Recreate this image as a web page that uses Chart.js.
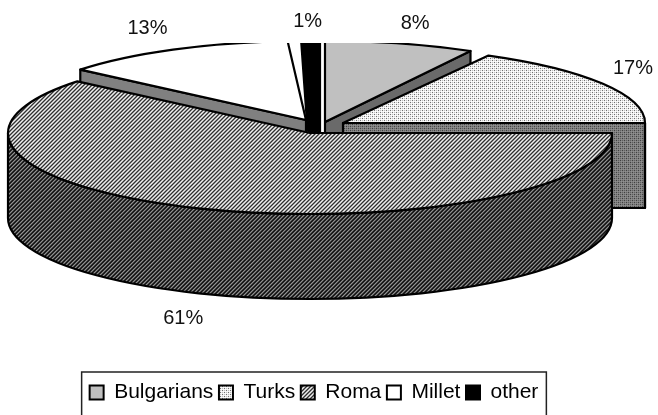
<!DOCTYPE html>
<html>
<head>
<meta charset="utf-8">
<style>html,body{margin:0;padding:0;background:#fff;overflow:hidden}canvas{display:block}</style>
<script src="https://cdn.jsdelivr.net/npm/chart.js@4/dist/chart.umd.js"></script>
</head>
<body>
<canvas id="c" width="658" height="415"></canvas>
<script>
// ---- data ----
const categories = ['Bulgarians', 'Turks', 'Roma', 'Millet', 'other'];
const shares = [8, 17, 61, 13, 1];

// ---- styling ----
const FONT = '"Liberation Sans", Arial, sans-serif';
const PIE = { cx: 310, cy: 133, rx: 302, ry: 81, depth: 85, clipTop: 43 };
const EXPLODE = [[15, -11], [33, -10], [0, 0], [-4, -13], [10, -13]];
const RX_SCALE = [1, 1, 1, 0.97, 1];
const RY_SCALE = [1, 0.95, 1, 0.975, 1];
const BOTTOM_SCALE = [1, 1, 1, 1, 0.68];
const LABEL_NUDGE = [[0, 0], [-22, -3], [-4, 5], [6, -1], [-1, 3]];
const PAINT_ORDER = [0, 4, 3, 1, 2];

function pattern(rows) {
  const h = rows.length, w = rows[0].length;
  const t = document.createElement('canvas');
  t.width = w; t.height = h;
  const g = t.getContext('2d');
  rows.forEach((r, y) => r.forEach((v, x) => {
    g.fillStyle = 'rgb(' + v + ',' + v + ',' + v + ')';
    g.fillRect(x, y, 1, 1);
  }));
  return g.createPattern(t, 'repeat');
}
function diagonal(seq) {
  const n = seq.length, rows = [];
  for (let y = 0; y < n; y++) {
    const r = [];
    for (let x = 0; x < n; x++) r.push(seq[(x + y) % n]);
    rows.push(r);
  }
  return pattern(rows);
}
const turksTop = pattern([
  [0x70, 0xf0, 0xc0, 0xf0],
  [0xf0, 0xff, 0xf0, 0xff],
  [0xc0, 0xf0, 0x70, 0xf0],
  [0xf0, 0xff, 0xf0, 0xff]]);
const turksSide = pattern([
  [0x40, 0x80, 0x60, 0x80],
  [0x80, 0x90, 0x80, 0x90],
  [0x60, 0x80, 0x40, 0x80],
  [0x80, 0x90, 0x80, 0x90]]);
const romaTop = diagonal([0x30, 0x90, 0xf0, 0xa0]);
const romaSide = diagonal([0x10, 0x30, 0x90, 0x50]);
const TOP_FILL = ['#c0c0c0', turksTop, romaTop, '#ffffff', '#000000'];
const SIDE_FILL = ['#6a6a6a', turksSide, romaSide, '#808080', '#000000'];

Chart.defaults.font.family = FONT;

const pie3d = {
  id: 'pie3d',
  beforeDatasetsDraw(chart) {
    const ctx = chart.ctx, arcs = chart.getDatasetMeta(0).data;
    const depth = PIE.depth;
    ctx.save();
    ctx.beginPath();
    ctx.rect(0, PIE.clipTop, chart.width, chart.height);
    ctx.clip();
    ctx.lineWidth = 2.2;
    ctx.lineJoin = 'round';
    ctx.strokeStyle = '#000';
    const paint = (fill) => { ctx.fillStyle = fill; ctx.fill(); ctx.stroke(); };

    PAINT_ORDER.forEach((i) => {
      const a0 = arcs[i].startAngle, a1 = arcs[i].endAngle;
      const tx = PIE.cx + EXPLODE[i][0], ty = PIE.cy + EXPLODE[i][1];
      const rx = PIE.rx * RX_SCALE[i], ry = PIE.ry * RY_SCALE[i];
      const k = BOTTOM_SCALE[i];
      // cut faces turned to the viewer
      const cut = (a) => {
        const dx = rx * Math.cos(a), dy = ry * Math.sin(a);
        ctx.beginPath();
        ctx.moveTo(tx, ty);
        ctx.lineTo(tx + dx, ty + dy);
        ctx.lineTo(tx + dx * k, ty + dy + depth);
        ctx.lineTo(tx, ty + depth);
        ctx.closePath();
        paint(SIDE_FILL[i]);
      };
      // start face looks counter-clockwise, end face clockwise
      if (Math.cos(a0) < -1e-6) cut(a0);
      if (Math.cos(a1) > 1e-6) cut(a1);
      // outer wall, front half of the ellipse only
      const b0 = Math.max(a0, 0), b1 = Math.min(a1, Math.PI);
      if (b1 > b0) {
        ctx.beginPath();
        ctx.ellipse(tx, ty, rx, ry, 0, b0, b1);
        ctx.ellipse(tx, ty + depth, rx, ry, 0, b1, b0, true);
        ctx.closePath();
        paint(SIDE_FILL[i]);
      }
      // top face
      ctx.beginPath();
      ctx.moveTo(tx, ty);
      ctx.ellipse(tx, ty, rx, ry, 0, a0, a1);
      ctx.closePath();
      paint(TOP_FILL[i]);
    });
    ctx.restore();

    // percentage labels
    ctx.save();
    ctx.fillStyle = '#111';
    ctx.font = '20px ' + FONT;
    ctx.textAlign = 'center';
    ctx.textBaseline = 'middle';
    arcs.forEach((arc, i) => {
      const m = (arc.startAngle + arc.endAngle) / 2;
      const tx = PIE.cx + EXPLODE[i][0], ty = PIE.cy + EXPLODE[i][1];
      const below = Math.sin(m) > 0 ? depth : 0;
      ctx.fillText(shares[i] + '%',
        tx + PIE.rx * Math.cos(m) * 1.2 + LABEL_NUDGE[i][0],
        ty + PIE.ry * Math.sin(m) * 1.25 + below + LABEL_NUDGE[i][1]);
    });
    ctx.restore();
    return false;
  },
  afterDraw(chart) {
    const lg = chart.legend, boxes = lg.legendHitBoxes;
    const ctx = chart.ctx;
    const l = boxes[0].left - 8;
    const last = boxes[boxes.length - 1];
    const r = last.left + last.width + 8;
    ctx.save();
    ctx.strokeStyle = '#222';
    ctx.lineWidth = 1.5;
    ctx.beginPath();
    ctx.moveTo(l, chart.height + 2);
    ctx.lineTo(l, lg.top - 4.5);
    ctx.lineTo(r, lg.top - 4.5);
    ctx.lineTo(r, chart.height + 2);
    ctx.stroke();
    ctx.restore();
  }
};

new Chart(document.getElementById('c'), {
  type: 'pie',
  plugins: [pie3d],
  data: {
    labels: categories,
    datasets: [{
      data: shares,
      backgroundColor: TOP_FILL,
      borderColor: '#000000',
      borderWidth: 2
    }]
  },
  options: {
    responsive: false,
    animation: false,
    layout: { padding: { right: 30, bottom: 2 } },
    plugins: {
      tooltip: { enabled: false },
      legend: {
        position: 'bottom',
        labels: {
          boxWidth: 14,
          boxHeight: 14,
          padding: 5.6,
          color: '#000',
          font: { size: 21, family: FONT }
        }
      }
    }
  }
});
</script>
</body>
</html>
